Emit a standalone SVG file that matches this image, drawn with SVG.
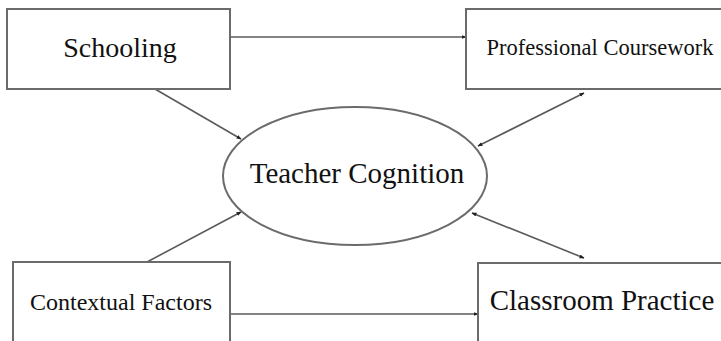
<svg xmlns="http://www.w3.org/2000/svg" width="721" height="341" viewBox="0 0 721 341">
<style>
.box{fill:#fff;stroke:#6b6b6b;stroke-width:2}
.lbl{font-family:"Liberation Serif",serif;fill:#111;text-anchor:middle}
.con{stroke:#5a5a5a;stroke-width:1.6;fill:none}
</style>
<defs>
<marker id="ah" viewBox="0 0 10 10" refX="9" refY="5" markerWidth="5" markerHeight="5" orient="auto-start-reverse" markerUnits="userSpaceOnUse">
<path d="M0,1 L10,5 L0,9 Z" fill="#222"/>
</marker>
</defs>
<rect width="721" height="341" fill="#fff"/>
<g id="connectors">
<line class="con" x1="231" y1="37" x2="466" y2="37" marker-end="url(#ah)"/>
<line class="con" x1="155" y1="89" x2="241" y2="139" marker-end="url(#ah)"/>
<line class="con" x1="478" y1="146" x2="584" y2="93" marker-start="url(#ah)" marker-end="url(#ah)"/>
<line class="con" x1="147" y1="262" x2="241" y2="212" marker-end="url(#ah)"/>
<line class="con" x1="472" y1="213" x2="584" y2="258" marker-start="url(#ah)" marker-end="url(#ah)"/>
<line class="con" x1="231" y1="314" x2="478" y2="314" marker-end="url(#ah)"/>
</g>
<g id="schooling">
<rect class="box" x="7" y="9" width="223" height="80"/>
<text class="lbl" x="120" y="57" font-size="28">Schooling</text>
</g>
<g id="professional-coursework">
<rect class="box" x="466" y="9" width="262" height="80"/>
<text class="lbl" x="600" y="55" font-size="22.5">Professional Coursework</text>
</g>
<g id="teacher-cognition">
<ellipse class="box" cx="355" cy="176" rx="132" ry="69"/>
<text class="lbl" x="357" y="183" font-size="29">Teacher Cognition</text>
</g>
<g id="contextual-factors">
<rect class="box" x="13" y="262" width="217" height="90"/>
<text class="lbl" x="121" y="310" font-size="24">Contextual Factors</text>
</g>
<g id="classroom-practice">
<rect class="box" x="478" y="263" width="250" height="90"/>
<text class="lbl" x="602" y="310" font-size="29">Classroom Practice</text>
</g>
</svg>
